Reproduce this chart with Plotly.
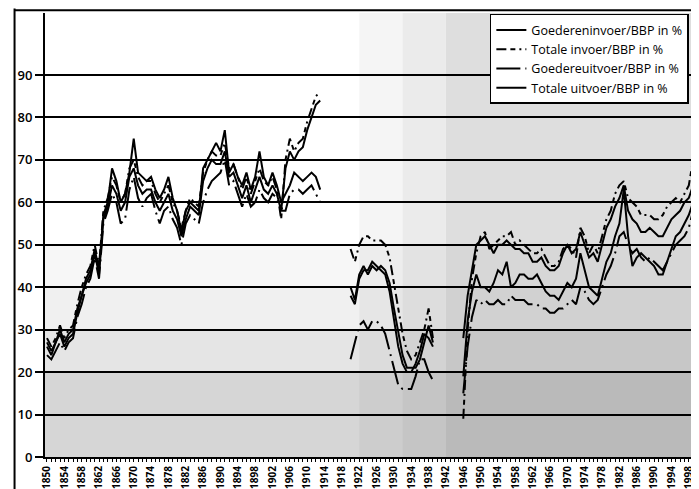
import plotly.graph_objects as go

# ---------------- data ----------------
years_a = list(range(1850, 1914))
years_b = list(range(1920, 1940))
years_c = list(range(1946, 2002))

goedereninvoer_a = [26, 24, 27, 29, 26, 28, 29, 34, 38, 41, 43, 48, 43, 56, 59, 64, 62, 58, 60, 66,
                    68, 64, 62, 63, 63, 60, 58, 60, 62, 58, 56, 52, 56, 59, 58, 57, 65, 68, 70, 69,
                    69, 72, 66, 67, 64, 61, 64, 60, 63, 66, 63, 62, 64, 62, 58, 68, 72, 70, 72, 73,
                    77, 80, 83, 84]
totale_invoer_a = [28, 26, 28, 31, 28, 30, 31, 36, 40, 43, 45, 50, 45, 58, 61, 66, 64, 60, 62, 68,
                   70, 66, 64, 65, 65, 62, 60, 62, 64, 60, 58, 54, 58, 61, 60, 59, 67, 70, 72, 71,
                   71, 74, 68, 69, 66, 63, 66, 62, 65, 68, 65, 64, 66, 63, 56, 70, 75, 72, 74, 75,
                   79, 82, 85, 86]
goedereuitvoer_a = [24, 23, 25, 27, 25, 27, 28, 33, 36, 40, 42, 47, 42, 55, 58, 62, 60, 55, 56, 63,
                    66, 61, 59, 61, 62, 58, 55, 58, 59, 56, 54, 50, 55, 57, 56, 55, 60, 63, 65, 66,
                    67, 70, 64, 65, 62, 59, 62, 59, 60, 63, 61, 60, 62, 61, 58, 58, 62, 63, 63, 62,
                    63, 64, 62, 60]
totale_uitvoer_a = [27, 25, 27, 30, 27, 29, 30, 35, 38, 42, 44, 49, 44, 57, 60, 68, 65, 60, 62, 67,
                    75, 67, 66, 65, 66, 63, 61, 63, 66, 61, 58, 53, 58, 60, 59, 58, 68, 70, 72, 74,
                    72, 77, 67, 69, 66, 64, 67, 63, 66, 72, 66, 64, 67, 64, 60, 62, 64, 67, 66, 65,
                    66, 67, 66, 63]

goedereninvoer_b = [40, 37, 43, 45, 43, 45, 44, 45, 44, 41, 35, 29, 24, 21, 21, 21, 23, 27, 31, 27]
totale_invoer_b = [49, 46, 50, 52, 52, 51, 51, 51, 50, 47, 41, 35, 29, 25, 23, 24, 27, 30, 35, 28]
goedereuitvoer_b = [23, 27, 31, 32, 30, 32, 32, 31, 29, 25, 21, 17, 16, 16, 16, 19, 23, 23, 20, 18]
totale_uitvoer_b = [38, 36, 42, 44, 44, 46, 45, 44, 43, 39, 32, 26, 22, 20, 20, 22, 25, 29, 28, 26]

goedereninvoer_c = [19, 32, 39, 43, 40, 40, 39, 41, 44, 43, 46, 40, 41, 43, 43, 42, 42, 43, 41, 39,
                    38, 38, 37, 39, 41, 40, 42, 48, 44, 40, 39, 38, 42, 46, 48, 52, 55, 63, 52, 45,
                    47, 48, 47, 46, 45, 43, 43, 46, 49, 52, 53, 55, 57, 60, 52, 45]
totale_invoer_c = [9, 30, 42, 48, 52, 53, 49, 50, 51, 52, 52, 53, 50, 51, 50, 49, 48, 48, 49, 47,
                   45, 45, 46, 49, 50, 49, 47, 54, 52, 48, 50, 48, 52, 56, 58, 62, 64, 65, 61, 60,
                   59, 57, 57, 57, 56, 56, 57, 59, 60, 61, 60, 62, 64, 70, 68, 65]
goedereuitvoer_c = [15, 26, 33, 37, 36, 37, 36, 36, 37, 36, 36, 38, 37, 37, 37, 36, 36, 36, 35, 35,
                    34, 34, 35, 35, 36, 37, 36, 40, 39, 37, 36, 37, 40, 43, 45, 48, 52, 53, 50, 48,
                    49, 47, 46, 47, 46, 45, 44, 46, 48, 50, 51, 52, 54, 58, 60, 59]
totale_uitvoer_c = [28, 38, 44, 50, 51, 52, 50, 48, 50, 50, 51, 50, 49, 49, 48, 48, 46, 46, 47, 45,
                    44, 44, 45, 48, 50, 48, 49, 53, 50, 47, 48, 46, 50, 54, 56, 59, 61, 64, 58, 56,
                    55, 53, 53, 54, 53, 52, 52, 54, 56, 57, 58, 60, 61, 64, 63, 61]

y_ticks = [0, 10, 20, 30, 40, 50, 60, 70, 80, 90]
x_ticks = list(range(1850, 2003, 4))

series_names = ["Goedereninvoer/BBP in %", "Totale invoer/BBP in %",
                "Goedereuitvoer/BBP in %", "Totale uitvoer/BBP in %"]

# ---------------- build ----------------
def join(a, b, c):
    xs = years_a + [1916] + years_b + [1943] + years_c
    ys = a + [None] + b + [None] + c
    return xs, ys

series = [
    (goedereninvoer_a, goedereninvoer_b, goedereninvoer_c, "solid"),
    (totale_invoer_a, totale_invoer_b, totale_invoer_c, "10px,4px,5px,4px,2px,4px"),
    (goedereuitvoer_a, goedereuitvoer_b, goedereuitvoer_c, "24px,5px,2px,5px"),
    (totale_uitvoer_a, totale_uitvoer_b, totale_uitvoer_c, "solid"),
]

fig = go.Figure()
for name, (a, b, c, dash) in zip(series_names, series):
    xs, ys = join(a, b, c)
    fig.add_trace(go.Scatter(x=xs, y=ys, mode="lines", name=name, connectgaps=False,
                             line=dict(color="black", width=2, dash=dash)))

XMIN, XMAX = 1849.54, 2002.2
YMIN, YMAX = 0, 104.6

shapes = []
# horizontal shading bands (denser toward bottom)
for y0, y1, a in [(0, 20, 0.16), (20, 30, 0.10), (30, 40, 0.06), (40, 50, 0.03)]:
    shapes.append(dict(type="rect", xref="x", yref="y", x0=XMIN, x1=XMAX, y0=y0, y1=y1,
                       fillcolor=f"rgba(0,0,0,{a})", line=dict(width=0), layer="below"))
# vertical shading bands (denser toward right)
for x0, x1, a in [(1922, 1932, 0.04), (1932, 1942, 0.08), (1942, XMAX, 0.13)]:
    shapes.append(dict(type="rect", xref="x", yref="y", x0=x0, x1=x1, y0=YMIN, y1=YMAX,
                       fillcolor=f"rgba(0,0,0,{a})", line=dict(width=0), layer="below"))
# frame lines of the scanned figure
shapes.append(dict(type="line", xref="paper", yref="paper", x0=-0.046, x1=-0.046, y0=-0.09, y1=1.01,
                   line=dict(color="black", width=2)))
shapes.append(dict(type="line", xref="paper", yref="paper", x0=-0.046, x1=1.0, y0=1.006, y1=1.006,
                   line=dict(color="black", width=2)))

font_family = "Open Sans, Lato, sans-serif"

fig.update_layout(
    width=699, height=489,
    margin=dict(l=37, r=0, t=5, b=40),
    paper_bgcolor="white", plot_bgcolor="white",
    shapes=shapes,
    showlegend=True,
    legend=dict(x=0.672, xanchor="left", y=0.998, yanchor="top",
                bgcolor="white", bordercolor="black", borderwidth=1.5,
                font=dict(family="Open Sans", size=12.5, color="black"),
                tracegroupgap=0),
    xaxis=dict(range=[XMIN, XMAX], tickmode="array", tickvals=x_ticks,
               ticktext=[str(v) for v in x_ticks], tickangle=-90,
               tickfont=dict(family=font_family, size=10, color="black", weight=700),
               ticks="outside", ticklen=3, tickcolor="black", tickwidth=1,
               minor=dict(dtick=1, ticks="outside", ticklen=3, tickcolor="black", tickwidth=1),
               showgrid=False, zeroline=False,
               showline=True, linecolor="black", linewidth=2),
    yaxis=dict(range=[YMIN, YMAX], tickmode="array", tickvals=y_ticks,
               tickfont=dict(family=font_family, size=13, color="black", weight=600),
               ticks="outside", ticklen=8, tickcolor="black", tickwidth=1.5,
               showgrid=True, gridcolor="black", gridwidth=2,
               zeroline=False, showline=True, linecolor="black", linewidth=2),
)

fig.write_html("out.html")
